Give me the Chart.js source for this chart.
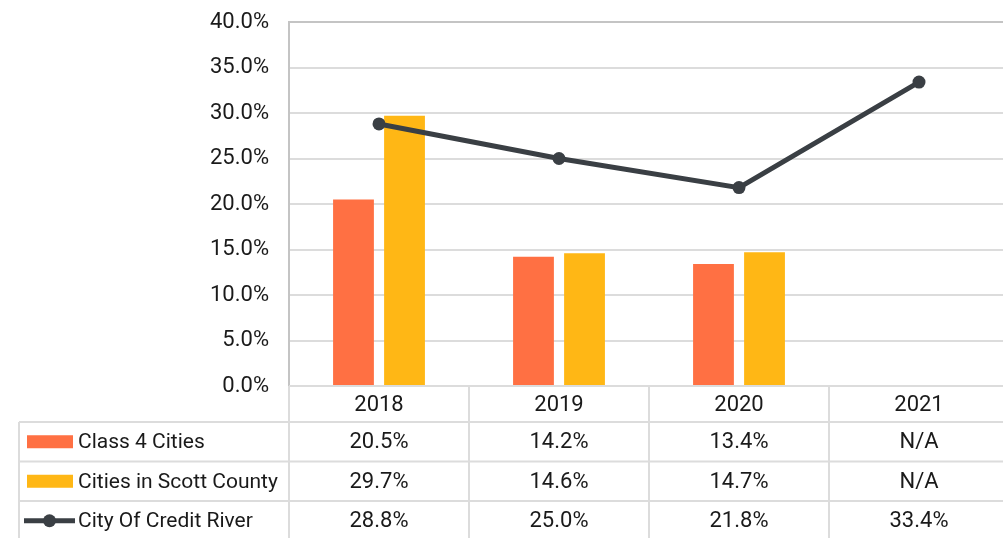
<!DOCTYPE html>
<html>
<head>
<meta charset="utf-8">
<script src="https://cdn.jsdelivr.net/npm/chart.js@4.4.0/dist/chart.umd.min.js"></script>
<style>
    html, body { margin: 0; padding: 0; background: #fff; overflow: hidden; }
    #wrap { width: 1010px; height: 538px; }
</style>
</head>
<body>
<div id="wrap"><canvas id="chart" width="1010" height="538"></canvas></div>
<script>
// Data
const years = ['2018', '2019', '2020', '2021'];
const class4Cities = [20.5, 14.2, 13.4, null];
const scottCountyCities = [29.7, 14.6, 14.7, null];
const creditRiver = [28.8, 25.0, 21.8, 33.4];
const seriesNames = ['Class 4 Cities', 'Cities in Scott County', 'City Of Credit River'];
const yMin = 0, yMax = 40, yStep = 5;

const FONT = "Roboto, 'Noto Sans', sans-serif";
const FONT_SIZE = 22;
const TEXT = '#1a1a1a';
const ORANGE = '#FF7043';
const YELLOW = '#FFB715';
const DARK = '#3A3F44';
const GRID = '#dcdcdc';

const fmt = v => (v === null || v === undefined) ? 'N/A' : v.toFixed(1) + '%';

// Data table under the plot, aligned to the x scale
const tablePlugin = {
    id: 'dataTable',
    afterDraw(chart) {
        const { ctx, chartArea: a, scales: { x } } = chart;
        const colW = a.width / years.length;
        const headTop = a.bottom;
        const headH = 36;
        const rowH = 39.5;
        const rowsTop = headTop + headH;
        const tableLeft = 19;
        const bottom = chart.height + 5;
        const colEdge = i => x.getPixelForValue(0) - colW / 2 + i * colW;

        ctx.save();
        ctx.strokeStyle = GRID;
        ctx.lineWidth = 2;
        ctx.beginPath();
        ctx.moveTo(a.left, headTop); ctx.lineTo(a.right + 5, headTop);
        for (let r = 0; r < seriesNames.length; r++) {
            const y = rowsTop + r * rowH;
            ctx.moveTo(tableLeft, y); ctx.lineTo(a.right + 5, y);
        }
        ctx.moveTo(tableLeft, rowsTop); ctx.lineTo(tableLeft, bottom);
        for (let i = 0; i <= years.length; i++) {
            const xx = colEdge(i);
            ctx.moveTo(xx, headTop); ctx.lineTo(xx, bottom);
        }
        ctx.stroke();

        ctx.font = FONT_SIZE + 'px ' + FONT;
        ctx.fillStyle = TEXT;
        ctx.textBaseline = 'middle';
        ctx.textAlign = 'center';
        years.forEach((yr, i) => {
            ctx.fillText(yr, x.getPixelForValue(i), headTop + headH / 2 + 1);
        });

        chart.data.datasets.forEach((ds, r) => {
            const cy = rowsTop + r * rowH + rowH / 2;
            // legend key
            if (ds.type === 'line') {
                ctx.strokeStyle = ds.borderColor;
                ctx.lineWidth = 5;
                ctx.beginPath();
                ctx.moveTo(24, cy); ctx.lineTo(75, cy);
                ctx.stroke();
                ctx.fillStyle = ds.borderColor;
                ctx.beginPath();
                ctx.arc(49.5, cy, 6.5, 0, Math.PI * 2);
                ctx.fill();
            } else {
                ctx.fillStyle = ds.backgroundColor;
                ctx.fillRect(27, cy - 6.5, 46, 13);
            }
            ctx.fillStyle = TEXT;
            ctx.textAlign = 'left';
            ctx.font = '21px ' + FONT;
            ctx.fillText(ds.label, 78, cy + 1);
            ctx.font = FONT_SIZE + 'px ' + FONT;
            ctx.textAlign = 'center';
            ds.data.forEach((v, i) => {
                ctx.fillText(fmt(v), x.getPixelForValue(i), cy + 1);
            });
        });
        ctx.restore();
    }
};

new Chart(document.getElementById('chart'), {
    data: {
        labels: years,
        datasets: [
            {
                type: 'bar',
                label: seriesNames[0],
                data: class4Cities,
                backgroundColor: ORANGE,
                categoryPercentage: 0.567,
                barPercentage: 0.8,
                order: 1
            },
            {
                type: 'bar',
                label: seriesNames[1],
                data: scottCountyCities,
                backgroundColor: YELLOW,
                categoryPercentage: 0.567,
                barPercentage: 0.8,
                order: 1
            },
            {
                type: 'line',
                label: seriesNames[2],
                data: creditRiver,
                borderColor: DARK,
                backgroundColor: DARK,
                borderWidth: 5,
                pointRadius: 6.5,
                pointBackgroundColor: DARK,
                pointBorderWidth: 0,
                tension: 0,
                order: 0
            }
        ]
    },
    options: {
        responsive: false,
        animation: false,
        layout: { autoPadding: false, padding: { top: 22, right: 1, bottom: 152, left: 0 } },
        plugins: {
            legend: { display: false },
            tooltip: { enabled: false }
        },
        scales: {
            x: {
                type: 'category',
                offset: true,
                display: false
            },
            y: {
                min: yMin,
                max: yMax,
                ticks: {
                    stepSize: yStep,
                    padding: 20,
                    color: TEXT,
                    font: { family: FONT, size: FONT_SIZE },
                    callback: v => v.toFixed(1) + '%'
                },
                grid: {
                    drawTicks: false,
                    lineWidth: 2,
                    color: c => (c.tick && c.tick.value === yMax) ? '#c4c4c4' : GRID
                },
                border: { color: '#c4c4c4', width: 2 },
                afterFit(scale) {
                    scale.width = 289;
                    scale.paddingTop = 0;
                    scale.paddingBottom = 0;
                }
            }
        }
    },
    plugins: [tablePlugin]
});
</script>
</body>
</html>
